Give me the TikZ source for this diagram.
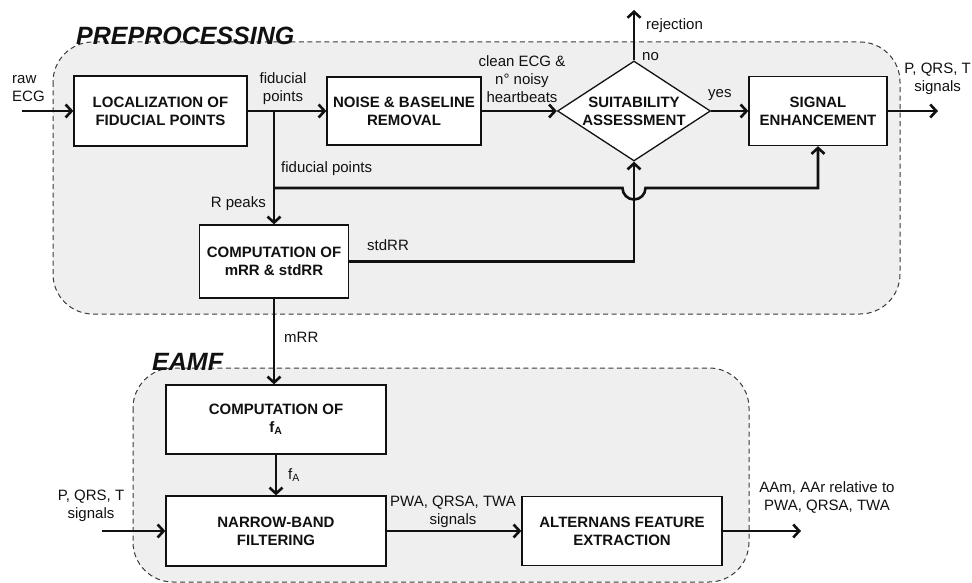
\documentclass[tikz,border=0pt]{standalone}
\usepackage{fontspec}
\setmainfont{Liberation Sans}
\usetikzlibrary{arrows.meta,shapes.geometric}
\definecolor{panelfill}{HTML}{EFEFEF}
\definecolor{dashc}{HTML}{3A3A3A}
\definecolor{ink}{HTML}{111111}
\tikzset{
 panel/.style={draw=dashc, fill=panelfill, line width=1pt, dash pattern=on 5pt off 3.5pt, rounded corners=40pt},
 block/.style={draw=ink, fill=white, line width=1.3pt, inner sep=0pt, align=center, font=\fontsize{15}{18}\selectfont\bfseries, text=ink},
 decision/.style={block, shape=diamond, aspect=1.53, minimum width=153pt, minimum height=100pt},
 lbl/.style={inner sep=0pt, align=center, font=\fontsize{15}{18}\selectfont, text=ink},
 title/.style={inner sep=0pt, font=\fontsize{25}{28}\selectfont\bfseries\itshape, text=ink},
 flow/.style={draw=ink, line width=2.6pt, -{Straight Barb[length=6pt,width=13pt]}},
}
\begin{document}
\begin{tikzpicture}[x=1pt,y=-1pt]
\useasboundingbox (0,0) rectangle (972,583);
\path[panel] (53,42) rectangle (900,314);
\path[panel] (133,368) rectangle (749,582);
\node[title, anchor=base west] (pretitle) at (76,45) {PREPROCESSING};
\node[title, anchor=base west] (eamftitle) at (152,370) {EAMF};

\node[block, minimum width=173pt, minimum height=70pt] (loc) at (160.5,111) {LOCALIZATION OF\\FIDUCIAL POINTS};
\node[block, minimum width=154pt, minimum height=68pt] (noise) at (404,111) {NOISE \& BASELINE\\REMOVAL};
\node[decision] (suit) at (634,111) {SUITABILITY\\ASSESSMENT};
\node[block, minimum width=138pt, minimum height=69pt] (sig) at (818,111) {SIGNAL\\ENHANCEMENT};
\node[block, minimum width=149pt, minimum height=73pt] (comp) at (274,261.5) {COMPUTATION OF\\mRR \& stdRR};
\node[block, minimum width=220pt, minimum height=69pt] (fa) at (276,419.5) {COMPUTATION OF\\f\textsubscript{A}};
\node[block, minimum width=220pt, minimum height=70pt] (nb) at (276,531) {NARROW-BAND\\FILTERING};
\node[block, minimum width=200pt, minimum height=69pt] (alt) at (622,531) {ALTERNANS FEATURE\\EXTRACTION};

\coordinate (rawin) at (22,111);
\coordinate (split) at (274,111);
\coordinate (fpsplit) at (274,188);
\coordinate (hopin) at (622.5,188);
\coordinate (sigturn) at (818,188);
\coordinate (rej) at (634,10);
\coordinate (sigout) at (938,111);
\coordinate (stdturn) at (634,261.5);
\coordinate (nbin) at (102,531);
\coordinate (altout) at (801,531);

\draw[flow] (rawin) -- (loc.west);
\draw[flow] (loc.east) -- (noise.west);
\draw[flow] (split) -- (comp.north);
\draw[flow] (fpsplit) -- (hopin) arc[start angle=180,end angle=360,radius=11.5pt] -- (sigturn) -- (sig.south);
\draw[flow] (suit.north) -- (rej);
\draw[flow] (noise.east) -- (suit.west);
\draw[flow] (suit.east) -- (sig.west);
\draw[flow] (sig.east) -- (sigout);
\draw[flow] (comp.east) -- (stdturn) -- (suit.south);
\draw[flow] (comp.south) -- (comp.south |- fa.north);
\draw[flow] (fa.south) -- (nb.north);
\draw[flow] (nbin) -- (nb.west);
\draw[flow] (nb.east) -- (alt.west);
\draw[flow] (alt.east) -- (altout);

\node[lbl, anchor=west, align=left] (rawlbl) at (12,89) {raw\\ECG};
\node[lbl] (fplbl) at (283,89) {fiducial\\points};
\node[lbl, anchor=west] (fplbl2) at (281,169) {fiducial points};
\node[lbl, anchor=east] (rplbl) at (266,204) {R peaks};
\node[lbl, anchor=west] (stdlbl) at (367,245) {stdRR};
\node[lbl] (cleanlbl) at (522,79) {clean ECG \&\\n° noisy\\heartbeats};
\node[lbl, anchor=west] (nolbl) at (642,57) {no};
\node[lbl, anchor=west] (rejlbl) at (646,26) {rejection};
\node[lbl, anchor=west] (yeslbl) at (708,95) {yes};
\node[lbl, anchor=east] (pqrs1) at (971,79) {P, QRS, T\\signals};
\node[lbl, anchor=west] (mrrlbl) at (284,337) {mRR};
\node[lbl, anchor=west] (falbl) at (288,475) {f\textsubscript{A}};
\node[lbl] (pqrs2) at (91,506) {P, QRS, T\\signals};
\node[lbl] (pwalbl) at (453,512) {PWA, QRSA, TWA\\signals};
\node[lbl] (aamlbl) at (827,497) {AAm, AAr relative to\\PWA, QRSA, TWA};
\end{tikzpicture}
\end{document}
